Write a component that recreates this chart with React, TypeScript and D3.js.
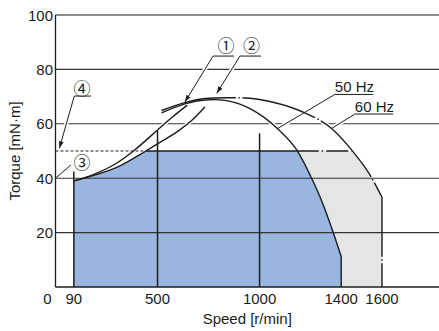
import React from 'react';
import * as d3 from 'd3';

const W = 439;
const H = 331;

// ---- data (speed r/min, torque mN·m) ----
const xTicks = [0, 90, 500, 1000, 1400, 1600];
const yTicks = [20, 40, 60, 80, 100];
const gridTorque = [20, 40, 60, 80];

const curve50Hz: [number, number][] = [
  [520, 64.0], [634, 67.3], [732, 68.75], [781, 68.9], [830, 68.6], [953, 65.6],
  [1090, 58.1], [1182, 50.4], [1255, 40], [1296, 33.2], [1361, 20], [1400, 11.1],
];
const curve60Hz: [number, number][] = [
  [520, 64.9], [634, 67.8], [732, 69.3], [830, 69.6], [928, 69.5], [1050, 68.2],
  [1222, 64], [1353, 58.3], [1451, 50.4], [1541, 41.2], [1600, 33.0],
];
const curveOne: [number, number][] = [
  [90, 39], [200, 41.8], [297, 45.4], [385, 50.2], [500, 57.7], [570, 62.3], [645, 66.8],
];
const curveTwo: [number, number][] = [
  [90, 39], [200, 41.3], [300, 44.0], [443, 50], [500, 52.6], [600, 57.3], [667, 61.2], [732, 66.2],
];
const limitTorque = 50;
const limitDashedEnd = 433;
const limitSolidStart = 443;
const limit50Cross = 1182;
const limit60Cross = 1451;
const end50 = 1400;
const end60 = 1600;
const verticalMarks: [number, number][] = [[90, 42.5], [500, 57.5], [1000, 56.5]];

// annotations in data units
const circled = [
  { label: '①', at: [835, 89.0], line: [[875, 84.9], [772, 84.9], [634, 68.0]], arrow: true },
  { label: '②', at: [961, 89.0], line: [[1007, 84.9], [904, 84.9], [790, 71.2]], arrow: true },
  { label: '④', at: [130, 73.5], line: [[174, 70.2], [92, 70.2], [19, 51]], arrow: true },
  { label: '③', at: [130, 46.3], line: [[76, 44.9], [0, 40]], arrow: false },
];
const freqLabels = [
  { label: '50 Hz', at: [1369, 71.6], line: [[1557, 70.8], [1369, 70.8], [1089, 58.3]] },
  { label: '60 Hz', at: [1467, 64.4], line: [[1655, 63.6], [1467, 63.6], [1353, 58.3]] },
];

const FONT = '"Liberation Sans", Arial, Helvetica, sans-serif';
const INK = '#1c1c1c';

export default function App() {
  const x = d3.scaleLinear().domain([0, 1600]).range([55.5, 382]);
  const y = d3.scaleLinear().domain([0, 100]).range([287, 15]);

  const line = d3.line<[number, number]>().x(d => x(d[0])).y(d => y(d[1])).curve(d3.curveMonotoneX);
  const area = d3.area<[number, number]>().x(d => x(d[0])).y0(y(0)).y1(d => y(d[1])).curve(d3.curveMonotoneX);
  const poly = (pts: number[][]) => 'M' + pts.map(p => `${x(p[0])},${y(p[1])}`).join('L');

  const path50 = line(curve50Hz) + `L${x(end50)},${y(0)}`;
  const path60 = line(curve60Hz) + `L${x(end60)},${y(0)}`;
  const pathOne = line(curveOne)!;
  const pathTwo = line(curveTwo)!;

  const area60 = area(curve60Hz) + '';
  const area50 = area(curve50Hz) + '';
  const areaTwo = area(curveTwo) + '';

  return (
    <svg width={W} height={H} style={{ position: 'absolute', left: 0, top: 0, background: '#fff' }}>
      <defs>
        <clipPath id="below50">
          <rect x={0} y={y(limitTorque)} width={W} height={y(0) - y(limitTorque)} />
        </clipPath>
        <clipPath id="above50">
          <rect x={0} y={0} width={W} height={y(limitTorque) - 1.5} />
        </clipPath>
        <marker id="arr" viewBox="0 0 7 6" refX={7} refY={3} markerWidth={7} markerHeight={6}
          markerUnits="userSpaceOnUse" orient="auto">
          <path d="M0,0.6L7,3L0,5.4Z" fill={INK} />
        </marker>
      </defs>

      {/* fills */}
      <g clipPath="url(#below50)">
        <path d={area60 + `L${x(end60)},${y(0)}Z`} fill="#e4e5e7" />
        <path d={area50} fill="#98b6df" />
        <path d={areaTwo} fill="#98b6df" />
      </g>

      {/* grid */}
      {gridTorque.map(t => (
        <line key={t} x1={x(0)} x2={W} y1={y(t)} y2={y(t)} stroke="#333" strokeWidth={1.1} />
      ))}
      <line x1={x(0)} x2={W} y1={y(100)} y2={y(100)} stroke={INK} strokeWidth={1.2} />
      <line x1={x(0)} x2={W} y1={y(0)} y2={y(0)} stroke={INK} strokeWidth={1.3} />
      <line x1={x(0)} x2={x(0)} y1={y(0)} y2={y(100)} stroke={INK} strokeWidth={1.3} />

      {/* halos above limit */}
      <g clipPath="url(#above50)" fill="none" stroke="#fff" strokeWidth={4}>
        <path d={path50} />
        <path d={path60} />
        <path d={pathOne} />
        <path d={pathTwo} />
        {circled.map((c, i) => <path key={i} d={poly(c.line)} />)}
        {freqLabels.map((c, i) => <path key={'f' + i} d={poly(c.line)} />)}
      </g>

      {/* vertical speed marks */}
      {verticalMarks.map(([s, t]) => (
        <line key={s} x1={x(s)} x2={x(s)} y1={y(0)} y2={y(t)} stroke={INK} strokeWidth={1.5} />
      ))}

      {/* curves */}
      <g fill="none" stroke={INK} strokeWidth={1.4}>
        <path d={pathTwo} />
        <path d={pathOne} />
        <path d={path50} />
        <path d={path60} strokeDasharray="76 2.5 1.5 2.5" />
      </g>

      {/* torque limit line */}
      <line x1={x(0)} x2={x(limitDashedEnd)} y1={y(limitTorque)} y2={y(limitTorque)}
        stroke={INK} strokeWidth={1} strokeDasharray="3 2" />
      <line x1={x(limitSolidStart)} x2={x(limit50Cross)} y1={y(limitTorque)} y2={y(limitTorque)}
        stroke={INK} strokeWidth={1.4} />
      <line x1={x(limit50Cross)} x2={x(limit60Cross)} y1={y(limitTorque)} y2={y(limitTorque)}
        stroke={INK} strokeWidth={1.4} strokeDasharray="22 3 1.5 3" />

      {/* annotations */}
      {circled.map((c, i) => (
        <g key={i}>
          <path d={poly(c.line)} fill="none" stroke={INK} strokeWidth={1}
            markerEnd={c.arrow ? 'url(#arr)' : undefined} />
          <text x={x(c.at[0])} y={y(c.at[1])} textAnchor="middle" dominantBaseline="central"
            fontFamily='"Noto Sans CJK JP", "DejaVu Sans", sans-serif' fontSize={17} fill={INK}>{c.label}</text>
        </g>
      ))}
      {freqLabels.map((c, i) => (
        <g key={i}>
          <path d={poly(c.line)} fill="none" stroke={INK} strokeWidth={1} />
          <text x={x(c.at[0])} y={y(c.at[1])} fontFamily={FONT} fontSize={15} fill={INK}>{c.label}</text>
        </g>
      ))}

      {/* tick labels */}
      {yTicks.map(t => (
        <text key={t} x={53} y={y(t) + 5.5} textAnchor="end" fontFamily={FONT} fontSize={15} fill={INK}>{t}</text>
      ))}
      {xTicks.map(s => (
        <text key={s} x={x(s) - (s === 0 ? 8 : 0)} y={304} textAnchor="middle" fontFamily={FONT} fontSize={15} fill={INK}>{s}</text>
      ))}

      <text x={(x(0) + W) / 2} y={324} textAnchor="middle" fontFamily={FONT} fontSize={15} fill={INK}>Speed [r/min]</text>
      <text transform={`translate(20,${(y(0) + y(100)) / 2}) rotate(-90)`} textAnchor="middle"
        fontFamily={FONT} fontSize={15} fill={INK}>Torque [mN·m]</text>
    </svg>
  );
}
